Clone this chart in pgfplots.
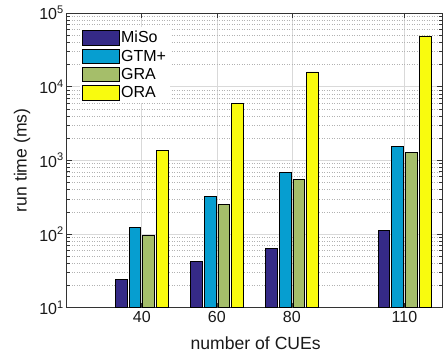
\documentclass[border=0pt]{standalone}
\usepackage{pgfplots}
\pgfplotsset{compat=1.18}
\usepackage{fontspec}
\setmainfont{Liberation Sans}
\definecolor{cMiSo}{RGB}{53,42,135}
\definecolor{cGTM}{RGB}{6,158,208}
\definecolor{cGRA}{RGB}{165,190,106}
\definecolor{cORA}{RGB}{249,251,14}
\newcommand{\tp}[1]{10\raisebox{6.5pt}{\fontsize{11}{11}\selectfont #1}}
\begin{document}
\begin{tikzpicture}
\path[use as bounding box] (-66.7pt,-50.3pt) rectangle (376.3pt,307.7pt);
\begin{axis}[
  at={(0pt,0pt)}, anchor=south west,
  scale only axis, width=375.3pt, height=294.7pt,
  xmin=20, xmax=120, ymin=10, ymax=100000,
  ymode=log, log origin y=infty,
  ybar=2pt, bar width=11.7pt,
  xtick={40,60,80,110},
  ytick={10,100,1000,10000,100000},
  yticklabels={\tp{1},\tp{2},\tp{3},\tp{4},\tp{5}},
  /pgf/number format/assume math mode=true,
  tick align=inside,
  major tick length=5pt, minor tick length=3pt,
  xmajorgrids, ymajorgrids, yminorgrids,
  major grid style={draw=black!15, line width=0.6pt},
  minor grid style={draw=black!30, line width=0.5pt, dotted},
  axis line style={draw=black!80, line width=0.6pt},
  tick style={draw=black!80, line width=0.6pt},
  ticklabel style={font=\fontsize{16}{16}\selectfont, text=black!90},
  label style={font=\fontsize{17.6}{17.6}\selectfont, text=black!90},
  xlabel={number of CUEs},
  ylabel={run time (ms)},
  xlabel style={at={(axis description cs:0.5036,-0.122)}, anchor=center},
  ylabel style={at={(axis description cs:-0.119,0.5)}, anchor=center},
  legend style={at={(axis description cs:0.046,0.949)}, anchor=north west,
    xshift=-4pt, yshift=1pt,
    draw=none, fill=white, font=\fontsize{16}{16}\selectfont,
    row sep=1.6pt, inner sep=2pt},
  legend cell align=left,
  legimg/.style={legend image code/.code={\draw[##1,draw=black,line width=0.6pt] (0pt,-7.25pt) rectangle (36.4pt,7.25pt);}},
]
\addplot[fill=cMiSo, draw=black, line width=0.6pt, legimg] coordinates {(40,24.3) (60,42) (80,64) (110,111)};
\addplot[fill=cGTM, draw=black, line width=0.6pt, legimg] coordinates {(40,124) (60,328) (80,679) (110,1563)};
\addplot[fill=cGRA, draw=black, line width=0.6pt, legimg] coordinates {(40,96) (60,253) (80,552) (110,1283)};
\addplot[fill=cORA, draw=black, line width=0.6pt, legimg] coordinates {(40,1380) (60,5860) (80,15900) (110,49000)};
\legend{MiSo,GTM+,GRA,ORA}
\end{axis}
\end{tikzpicture}
\end{document}
